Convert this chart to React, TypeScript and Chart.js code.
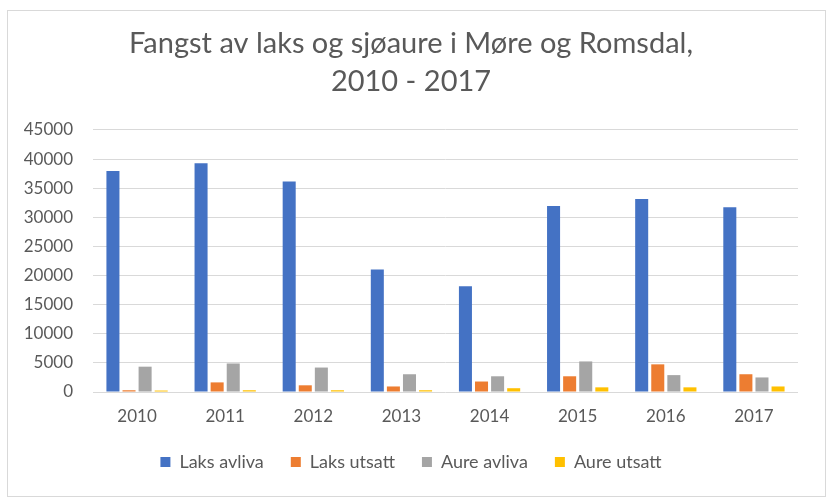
import React, { useEffect, useRef } from "react";
import { Chart, registerables } from "chart.js";

Chart.register(...registerables);

const categories = ["2010", "2011", "2012", "2013", "2014", "2015", "2016", "2017"];
const laksAvliva = [37950, 39300, 36150, 21050, 18150, 31950, 33150, 31750];
const laksUtsatt = [300, 1650, 1150, 950, 1800, 2700, 4750, 3050];
const aureAvliva = [4350, 4900, 4200, 3050, 2700, 5250, 2900, 2500];
const aureUtsatt = [250, 300, 300, 300, 650, 800, 800, 950];
const seriesNames = ["Laks avliva", "Laks utsatt", "Aure avliva", "Aure utsatt"];
const seriesColors = ["#4472C4", "#ED7D31", "#A5A5A5", "#FFC000"];
const titleLines = ["Fangst av laks og sjøaure i Møre og Romsdal,", "2010 - 2017"];

export default function App() {
  const ref = useRef<HTMLCanvasElement | null>(null);
  useEffect(() => {
    if (!ref.current) return;
    const values = [laksAvliva, laksUtsatt, aureAvliva, aureUtsatt];
    const chart = new Chart(ref.current, {
      type: "bar",
      data: {
        labels: categories,
        datasets: seriesNames.map((name, i) => ({
          label: name,
          data: values[i],
          backgroundColor: seriesColors[i],
          borderWidth: 0,
          categoryPercentage: 0.73,
          barPercentage: 0.81,
        })),
      },
      options: {
        animation: false,
        responsive: true,
        maintainAspectRatio: false,
        layout: { padding: { left: 16, right: 27, top: 8, bottom: 15 } },
        plugins: {
          title: {
            display: true,
            text: titleLines,
            color: "#595959",
            font: { family: "Lato", size: 29, weight: "normal" as any, lineHeight: 1.31 },
            padding: { top: 6, bottom: 29 },
          },
          legend: {
            position: "bottom",
            labels: {
              color: "#595959",
              font: { family: "Lato", size: 18 },
              boxWidth: 10,
              boxHeight: 10,
              padding: 27,
            },
          },
          tooltip: { enabled: false },
        },
        scales: {
          x: {
            grid: { display: false, drawTicks: false },
            border: { display: false },
            ticks: {
              color: "#595959",
              font: { family: "Lato", size: 17, lineHeight: 1.4 },
              padding: 13,
            },
            afterFit: (scale: any) => {
              scale.height = 34;
            },
          },
          y: {
            min: 0,
            max: 45000,
            grid: { color: "#d9d9d9", lineWidth: 1, drawTicks: false },
            border: { display: false },
            ticks: {
              stepSize: 5000,
              color: "#595959",
              font: { family: "Lato", size: 17 },
              padding: 20,
              callback: (v: any) => String(v),
            },
            afterFit: (scale: any) => {
              scale.width = 69;
            },
          },
        },
      },
    });
    return () => chart.destroy();
  }, []);
  return (
    <div
      style={{
        position: "absolute",
        left: 7,
        top: 10,
        width: 817,
        height: 485,
        border: "1px solid #d9d9d9",
        background: "#fff",
      }}
    >
      <canvas ref={ref} />
    </div>
  );
}
